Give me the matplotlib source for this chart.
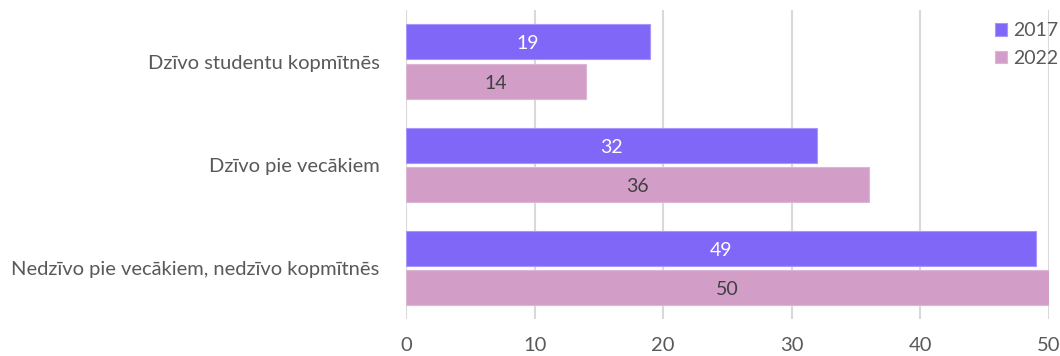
import matplotlib.pyplot as plt
import numpy as np

plt.rcParams['font.family'] = ['Lato', 'DejaVu Sans']

categories = ['Dzīvo studentu kopmītnēs', 'Dzīvo pie vecākiem', 'Nedzīvo pie vecākiem, nedzīvo kopmītnēs']
v2017 = [19, 32, 49]
v2022 = [14, 36, 50]
years = ['2017', '2022']

fig = plt.figure(figsize=(10.6, 3.56), dpi=100)
ax = fig.add_axes([0.383, 0.103, 0.6066, 0.869])

y = np.arange(len(categories))
h = 0.34
off = 0.19
b1 = ax.barh(y - off, v2017, height=h, color='#8167F8', edgecolor='#A795FA', linewidth=0.8, label=years[0], zorder=3)
b2 = ax.barh(y + off, v2022, height=h, color='#D29EC8', edgecolor='#DDB6D6', linewidth=0.8, label=years[1], zorder=3)

# value labels, nudged slightly down to sit centred like the original
for bars, vals, col in [(b1, v2017, 'white'), (b2, v2022, '#404040')]:
    for r, v in zip(bars, vals):
        ax.text(r.get_width() / 2, r.get_y() + r.get_height() / 2 + 0.02, str(v),
                ha='center', va='center', color=col, fontsize=14, zorder=4)

ax.set_xlim(0, 50)
ax.set_ylim(len(categories) - 0.5, -0.5)
ax.set_xticks([0, 10, 20, 30, 40, 50])
ax.set_yticks(y)
ax.set_yticklabels(categories)
ax.xaxis.grid(True, color='#D9D9D9', linewidth=1.5, zorder=0)
for s in ax.spines.values():
    s.set_visible(False)
ax.tick_params(axis='both', length=0, labelsize=14.5, colors='#595959')
ax.tick_params(axis='x', pad=13)
ax.tick_params(axis='y', pad=19)

leg = ax.legend(loc='upper right', bbox_to_anchor=(1.026, 0.985), frameon=False, fontsize=14,
                handlelength=0.6, handleheight=0.6, handletextpad=0.3, labelspacing=0.55, borderaxespad=0)
for t in leg.get_texts():
    t.set_color('#595959')

fig.savefig('out.png', dpi=100)
